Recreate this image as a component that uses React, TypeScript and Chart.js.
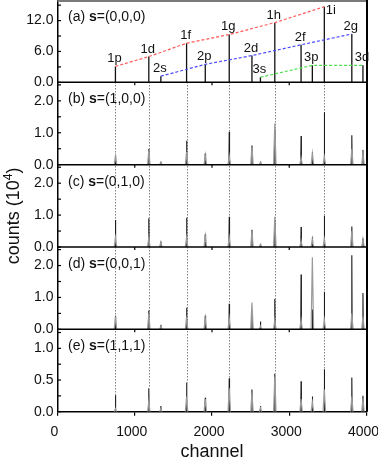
import React, { useEffect, useRef } from 'react';
import { Chart, registerables } from 'chart.js';

Chart.register(...registerables);

// ---------- data ----------
const LEVELS = ['1p', '1d', '2s', '1f', '2p', '1g', '2d', '3s', '1h', '2f', '3p', '1i', '2g', '3d'];
const CHANNELS = [750, 1182, 1338, 1671, 1913, 2223, 2517, 2627, 2813, 3153, 3299, 3454, 3810, 3954];

// panel (a): stick heights (10^4 counts)
const STICKS_A = [3.1, 5.0, 1.2, 7.6, 3.5, 9.3, 5.2, 1.0, 11.6, 7.3, 3.3, 14.7, 9.4, 3.3];

// panels (b)-(e): narrow (black) and broad (gray) peak heights
const BLACK_B = [0.29, 0.49, 0.09, 0.75, 0.35, 1.03, 0.6, 0.1, 1.1, 0.9, 0.39, 1.64, 0.92, 0.46];
const GRAY_B = [0.27, 0.45, 0.08, 0.4, 0.3, 0.27, 0.55, 0.08, 1.3, 0.22, 0.35, 0.25, 0.5, 0.35];
const BLACK_C = [0.85, 0.9, 0.17, 0.92, 0.4, 0.95, 0.54, 0.1, 0.85, 0.63, 0.32, 0.98, 0.64, 0.27];
const GRAY_C = [0.3, 0.3, 0.15, 0.3, 0.35, 0.3, 0.5, 0.08, 0.95, 0.2, 0.25, 0.25, 0.5, 0.25];
const BLACK_D = [0.43, 0.59, 0.14, 0.68, 0.43, 0.8, 0.57, 0.25, 0.95, 1.72, 0.62, 1.18, 2.32, 1.14];
const GRAY_D = [0.4, 0.5, 0.1, 0.4, 0.35, 0.35, 0.84, 0.1, 0.3, 0.3, 2.26, 0.3, 0.5, 0.4];
const BLACK_E = [0.26, 0.37, 0.09, 0.46, 0.22, 0.53, 0.35, 0.09, 0.6, 0.48, 0.24, 0.67, 0.54, 0.25];
const GRAY_E = [0.05, 0.16, 0.05, 0.24, 0.2, 0.37, 0.3, 0.06, 0.55, 0.2, 0.15, 0.35, 0.24, 0.2];

const PANEL_TAGS = ['(a)', '(b)', '(c)', '(d)', '(e)'];
const PANEL_S = ['(0,0,0)', '(1,0,0)', '(0,1,0)', '(0,0,1)', '(1,1,1)'];
const Y_MAX = [16, 2.58, 2.58, 2.58, 1.3];
const Y_STEP = [3, 0.5, 0.5, 0.5, 0.25];
const Y_LABEL_STEP = [6, 1, 1, 1, 0.5];
const X_MIN = 0;
const X_MAX = 4000;
const X_STEP = 1000;
const DOTTED_LEVELS = ['1p', '1d', '1f', '1g', '1h', '1i'];
const FAMILIES = ['1', '2', '3'];
const FAMILY_COLORS = ['#ff5a5a', '#4a4aff', '#4fe04f'];

// ---------- helpers ----------
const PANEL_IDS = ['yA', 'yB', 'yC', 'yD', 'yE'];
const FONT = "'Liberation Sans', Arial, sans-serif";
const BLACK_SETS = [BLACK_B, BLACK_C, BLACK_D, BLACK_E];
const GRAY_SETS = [GRAY_B, GRAY_C, GRAY_D, GRAY_E];

function sticks(hs: number[]) {
  const pts: any[] = [];
  CHANNELS.forEach((c, i) => {
    pts.push({ x: c, y: 0 }, { x: c, y: hs[i] }, { x: c, y: null });
  });
  return pts;
}

function peaks(hs: number[], half: number) {
  const pts: any[] = [];
  CHANNELS.forEach((c, i) => {
    pts.push({ x: c - half, y: 0 }, { x: c, y: hs[i] }, { x: c + half, y: 0 }, { x: c + half, y: null });
  });
  return pts;
}

function buildDatasets() {
  const ds: any[] = [];
  const base = { pointRadius: 0, fill: false, tension: 0, spanGaps: false };
  FAMILIES.forEach((f, k) => {
    const pts = LEVELS.map((l, i) => (l[0] === f ? { x: CHANNELS[i], y: STICKS_A[i] } : null)).filter(Boolean);
    ds.push({ ...base, data: pts, yAxisID: 'yA', borderColor: FAMILY_COLORS[k], borderWidth: 1.2, borderDash: [3, 2] });
  });
  ds.push({ ...base, data: sticks(STICKS_A), yAxisID: 'yA', borderColor: '#111', borderWidth: 1.3 });
  for (let p = 0; p < 4; p++) {
    ds.push({ ...base, data: peaks(GRAY_SETS[p], 16), yAxisID: PANEL_IDS[p + 1], borderColor: '#9a9a9a', borderWidth: 1.2 });
    ds.push({ ...base, data: peaks(BLACK_SETS[p], 4), yAxisID: PANEL_IDS[p + 1], borderColor: '#1a1a1a', borderWidth: 1.1 });
  }
  return ds;
}

const overlay = {
  id: 'overlay',
  beforeDatasetsDraw(chart: any) {
    const ctx = chart.ctx;
    const xs = chart.scales.x;
    const ya = chart.scales.yA;
    const ye = chart.scales.yE;
    ctx.save();
    ctx.strokeStyle = '#444';
    ctx.lineWidth = 1;
    ctx.setLineDash([1, 2]);
    DOTTED_LEVELS.forEach((l) => {
      const i = LEVELS.indexOf(l);
      const x = Math.round(xs.getPixelForValue(CHANNELS[i])) + 0.5;
      ctx.beginPath();
      ctx.moveTo(x, ya.getPixelForValue(0));
      ctx.lineTo(x, ye.getPixelForValue(BLACK_E[i]));
      ctx.stroke();
    });
    ctx.restore();
  },
  afterDraw(chart: any) {
    const ctx = chart.ctx;
    const ca = chart.chartArea;
    const xs = chart.scales.x;
    const ys = PANEL_IDS.map((id) => chart.scales[id]);
    ctx.save();
    ctx.strokeStyle = '#000';
    ctx.lineWidth = 1.5;
    ys.slice(0, 4).forEach((s: any) => {
      ctx.beginPath();
      ctx.moveTo(ca.left, s.bottom);
      ctx.lineTo(ca.right, s.bottom);
      ctx.stroke();
    });
    ctx.lineWidth = 1.2;
    ys.slice(0, 4).forEach((s: any) => {
      xs.ticks.forEach((t: any) => {
        if (t.value <= X_MIN || t.value >= X_MAX) return;
        const x = xs.getPixelForValue(t.value);
        ctx.beginPath();
        ctx.moveTo(x, s.bottom);
        ctx.lineTo(x, s.bottom + 3);
        ctx.stroke();
      });
    });
    ys.forEach((s: any) => {
      s.ticks.forEach((t: any) => {
        const y = s.getPixelForValue(t.value);
        ctx.beginPath();
        ctx.moveTo(ca.left, y);
        ctx.lineTo(ca.left + 3.5, y);
        ctx.stroke();
      });
    });
    ctx.strokeStyle = '#7a7a7a';
    ctx.lineWidth = 2;
    ctx.beginPath();
    ctx.moveTo(ca.left, ca.top + 1);
    ctx.lineTo(ca.right + 1, ca.top + 1);
    ctx.stroke();
    ctx.strokeStyle = '#000';
    ctx.beginPath();
    ctx.moveTo(ca.right + 0.5, ca.top);
    ctx.lineTo(ca.right + 0.5, ca.bottom);
    ctx.stroke();

    ctx.fillStyle = '#111';
    ctx.font = `13px ${FONT}`;
    ctx.textBaseline = 'alphabetic';
    LEVELS.forEach((l, i) => {
      const x = xs.getPixelForValue(CHANNELS[i]);
      const y = ys[0].getPixelForValue(STICKS_A[i]);
      if (l === '1i') {
        ctx.textAlign = 'left';
        ctx.fillText(l, x + 1.5, y + 7);
      } else {
        ctx.textAlign = 'center';
        ctx.fillText(l, x - 1, y - 4);
      }
    });

    ctx.textAlign = 'left';
    ctx.textBaseline = 'middle';
    ys.forEach((s: any, k: number) => {
      let x = ca.left + 10.5;
      const y = s.top + 17;
      ctx.font = `14px ${FONT}`;
      const tag = PANEL_TAGS[k] + ' ';
      ctx.fillText(tag, x, y);
      x += ctx.measureText(tag).width;
      ctx.font = `bold 14px ${FONT}`;
      ctx.fillText('s', x, y);
      x += ctx.measureText('s').width;
      ctx.font = `14px ${FONT}`;
      ctx.fillText('=' + PANEL_S[k], x, y);
    });

    const main = 'counts (10';
    const sup = '4';
    const close = ')';
    ctx.font = `18px ${FONT}`;
    const w1 = ctx.measureText(main).width;
    const w3 = ctx.measureText(close).width;
    ctx.font = `12px ${FONT}`;
    const w2 = ctx.measureText(sup).width;
    const total = w1 + w2 + w3;
    const cy = (ys[0].top + ys[4].bottom) / 2 + 10;
    ctx.translate(19, cy);
    ctx.rotate(-Math.PI / 2);
    ctx.textBaseline = 'alphabetic';
    ctx.textAlign = 'left';
    let lx = -total / 2;
    ctx.font = `18px ${FONT}`;
    ctx.fillText(main, lx, 0);
    lx += w1;
    ctx.font = `12px ${FONT}`;
    ctx.fillText(sup, lx, -7);
    lx += w2;
    ctx.font = `18px ${FONT}`;
    ctx.fillText(close, lx, 0);
    ctx.restore();
  },
};

export default function App() {
  const ref = useRef<HTMLCanvasElement>(null);

  useEffect(() => {
    if (!ref.current) return;
    Chart.defaults.font.family = FONT;
    const scales: any = {
      x: {
        type: 'linear',
        position: 'bottom',
        min: X_MIN,
        max: X_MAX,
        ticks: {
          stepSize: X_STEP,
          color: '#111',
          font: { size: 14 },
          padding: 8,
          labelOffset: -3,
          maxRotation: 0,
          autoSkip: false,
          callback: (v: number) => String(v),
        },
        grid: { drawOnChartArea: false, drawTicks: true, tickLength: 4, color: '#000', lineWidth: 1.2 },
        border: { display: true, color: '#000', width: 1.5 },
        title: { display: true, text: 'channel', color: '#111', font: { size: 18 }, padding: { top: 0, bottom: -6 } },
        afterFit: (s: any) => {
          s.height = 45.3;
          s.paddingLeft = 0;
          s.paddingRight = 0;
        },
      },
    };
    PANEL_IDS.forEach((id, k) => {
      scales[id] = {
        type: 'linear',
        position: 'left',
        stack: 'panels',
        stackWeight: 1,
        weight: 5 - k,
        min: 0,
        max: Y_MAX[k],
        ticks: {
          stepSize: Y_STEP[k],
          includeBounds: false,
          autoSkip: false,
          padding: 4,
          color: '#111',
          font: { size: 14 },
          callback: (v: number) => {
            const r = v / Y_LABEL_STEP[k];
            return Math.abs(r - Math.round(r)) < 1e-6 ? v.toFixed(1) : '';
          },
        },
        grid: { display: false, drawTicks: false },
        border: { display: true, color: '#000', width: 1.5 },
        afterFit: (s: any) => {
          s.width = 57.5;
          s.paddingTop = 0;
          s.paddingBottom = 0;
        },
      };
    });

    const chart = new Chart(ref.current, {
      type: 'line',
      data: { datasets: buildDatasets() },
      options: {
        responsive: false,
        animation: false,
        events: [],
        layout: { padding: { top: 0, bottom: 0, left: 0, right: 11.5 } },
        plugins: { legend: { display: false }, tooltip: { enabled: false } },
        scales,
      } as any,
      plugins: [overlay as any],
    });
    return () => chart.destroy();
  }, []);

  return (
    <div style={{ position: 'absolute', left: 0, top: 0, width: 378, height: 457, background: '#fff' }}>
      <canvas ref={ref} width={378} height={457} style={{ width: 378, height: 457, display: 'block' }} />
    </div>
  );
}
